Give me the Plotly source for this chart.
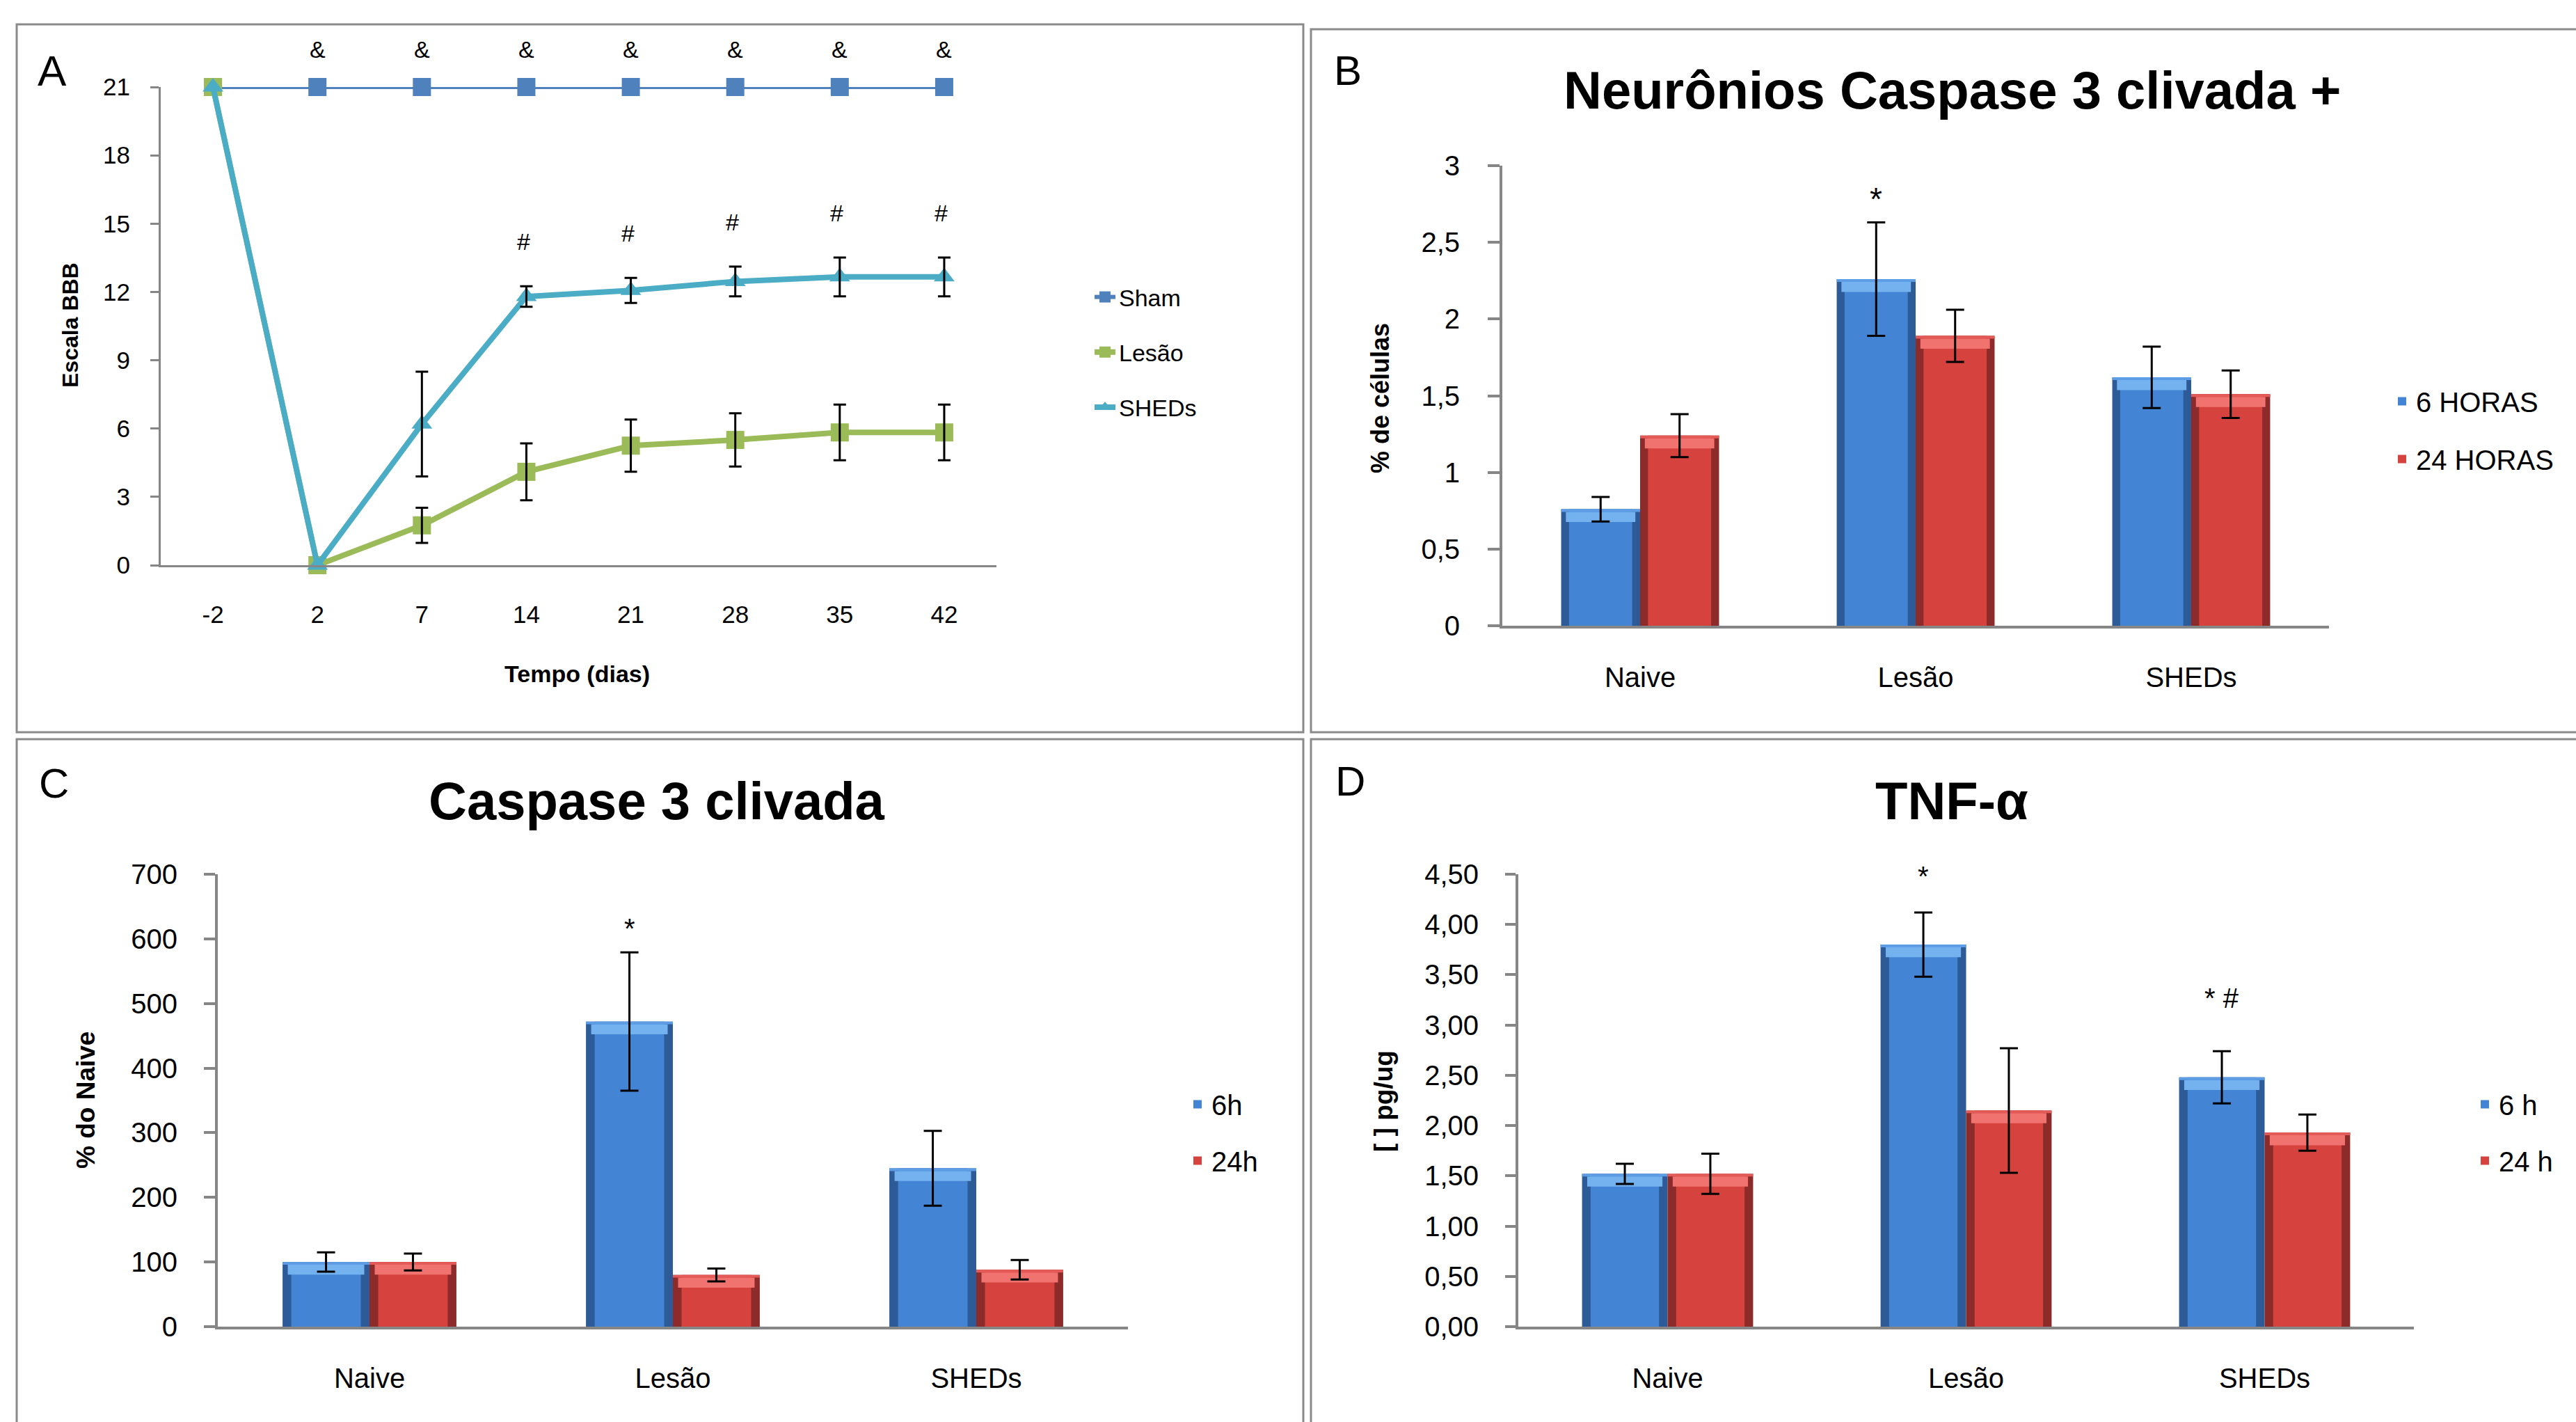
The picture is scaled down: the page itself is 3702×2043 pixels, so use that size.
import plotly.graph_objects as go

# ---------------- data ----------------
DAYS = ['-2', '2', '7', '14', '21', '28', '35', '42']
SHAM = [21, 21, 21, 21, 21, 21, 21, 21]
LESAO = [21, 0, 1.75, 4.1, 5.25, 5.5, 5.83, 5.83]
LESAO_ERR = [0, 0, 0.77, 1.25, 1.15, 1.17, 1.22, 1.22]
SHEDS = [21, 0, 6.2, 11.8, 12.07, 12.46, 12.66, 12.66]
SHEDS_ERR = [0, 0, 2.3, 0.45, 0.55, 0.65, 0.85, 0.85]
A_YTICKS = [0, 3, 6, 9, 12, 15, 18, 21]
AMP_DAYS = ['2', '7', '14', '21', '28', '35', '42']
HASH_DAYS = ['14', '21', '28', '35', '42']

GROUPS = ['Naive', 'Lesão', 'SHEDs']

B_6H = [0.76, 2.26, 1.62]
B_6H_ERR = [0.08, 0.37, 0.20]
B_24H = [1.24, 1.89, 1.51]
B_24H_ERR = [0.14, 0.17, 0.155]
B_TICKS = [0, 0.5, 1, 1.5, 2, 2.5, 3]
B_TICKTEXT = ['0', '0,5', '1', '1,5', '2', '2,5', '3']

C_6H = [100, 472, 245]
C_6H_ERR = [15, 107, 58]
C_24H = [100, 80, 88]
C_24H_ERR = [13, 10, 15]
C_TICKS = [0, 100, 200, 300, 400, 500, 600, 700]
C_TICKTEXT = ['0', '100', '200', '300', '400', '500', '600', '700']

D_6H = [1.52, 3.80, 2.48]
D_6H_ERR = [0.10, 0.32, 0.26]
D_24H = [1.52, 2.15, 1.93]
D_24H_ERR = [0.20, 0.62, 0.18]
D_TICKS = [0, 0.5, 1, 1.5, 2, 2.5, 3, 3.5, 4, 4.5]
D_TICKTEXT = ['0,00', '0,50', '1,00', '1,50', '2,00', '2,50', '3,00', '3,50', '4,00', '4,50']

# ---------------- style ----------------
W, H = 3702, 2043
FONT = "Liberation Sans, Arial, Helvetica, sans-serif"
AXIS_GRAY = '#868686'
BORDER_GRAY = '#8a8a8a'
BLUE = dict(edge='#2c5b98', body='#4384d4', band='#74b2ef', rim='#5d9de6')
RED = dict(edge='#8c2b29', body='#d6433f', band='#f07370', rim='#e35a56')
BAR_W = 0.2865


def px(x):
    return x / W


def py(y):
    return 1 - y / H


fig = go.Figure()

# ---------------- panel A ----------------
series_a = [
    ('Sham', SHAM, None, '#4f81bd', 'square', 26, 6),
    ('Lesão', LESAO, LESAO_ERR, '#9bbb59', 'square', 26, 8),
    ('SHEDs', SHEDS, SHEDS_ERR, '#4bacc6', 'triangle-up', 26, 8),
]
for name, vals, errs, col, sym, msize, lw in series_a:
    fig.add_trace(go.Scatter(
        x=DAYS, y=vals, name=name, mode='lines+markers',
        line=dict(color=col, width=lw),
        marker=dict(color=col, symbol=sym, size=msize),
        cliponaxis=False, xaxis='x', yaxis='y', legend='legend',
        legendgroup=name))
for name, vals, errs, col, sym, msize, lw in series_a:
    if errs is None:
        continue
    fig.add_trace(go.Scatter(
        x=DAYS[2:], y=vals[2:], mode='markers', showlegend=False,
        marker=dict(color=col, size=2, opacity=0),
        error_y=dict(type='data', array=errs[2:], color='black',
                     thickness=3, width=9),
        cliponaxis=False, xaxis='x', yaxis='y'))


# ---------------- bar panels ----------------
def add_bar_series(xa, ya, legend, name, vals, errs, colors, offset, R, group):
    common = dict(x=GROUPS, xaxis=xa, yaxis=ya)
    fig.add_trace(go.Bar(y=vals, width=BAR_W, offset=offset,
                         marker=dict(color=colors['edge'], line=dict(width=0)),
                         showlegend=False, **common))
    fig.add_trace(go.Bar(y=vals, width=BAR_W * 0.8, offset=offset + BAR_W * 0.1,
                         marker=dict(color=colors['body'], line=dict(width=0)),
                         name=name, legend=legend, legendgroup=group,
                         showlegend=True, **common))
    fig.add_trace(go.Bar(y=[R * 0.022] * len(vals),
                         base=[v - R * 0.028 for v in vals],
                         width=BAR_W * 0.88, offset=offset + BAR_W * 0.06,
                         marker=dict(color=colors['band'], line=dict(width=0)),
                         showlegend=False, **common))
    fig.add_trace(go.Bar(y=[R * 0.006] * len(vals),
                         base=[v - R * 0.006 for v in vals],
                         width=BAR_W, offset=offset,
                         marker=dict(color=colors['rim'], line=dict(width=0)),
                         showlegend=False, **common))
    fig.add_trace(go.Bar(y=vals, width=BAR_W, offset=offset,
                         marker=dict(color='rgba(0,0,0,0)', line=dict(width=0)),
                         error_y=dict(type='data', array=errs, color='black',
                                      thickness=3, width=13),
                         showlegend=False, **common))


add_bar_series('x2', 'y2', 'legend2', '6 HORAS', B_6H, B_6H_ERR, BLUE, -BAR_W, 3, 'b6')
add_bar_series('x2', 'y2', 'legend2', '24 HORAS', B_24H, B_24H_ERR, RED, 0, 3, 'b24')
add_bar_series('x3', 'y3', 'legend3', '6h', C_6H, C_6H_ERR, BLUE, -BAR_W, 700, 'c6')
add_bar_series('x3', 'y3', 'legend3', '24h', C_24H, C_24H_ERR, RED, 0, 700, 'c24')
add_bar_series('x4', 'y4', 'legend4', '6 h', D_6H, D_6H_ERR, BLUE, -BAR_W, 4.5, 'd6')
add_bar_series('x4', 'y4', 'legend4', '24 h', D_24H, D_24H_ERR, RED, 0, 4.5, 'd24')

# ---------------- axes ----------------
def xaxis_cfg(domain, anchor, rng, fsize, lw, standoff):
    return dict(domain=domain, anchor=anchor, type='category', range=rng,
                showline=True, linecolor=AXIS_GRAY, linewidth=lw, ticks='',
                showgrid=False, zeroline=False, fixedrange=True, automargin=False,
                tickfont=dict(family=FONT, size=fsize, color='black'),
                ticklabelstandoff=standoff)


def yaxis_cfg(domain, anchor, rng, tickvals, ticktext, fsize, lw, ticklen, standoff):
    return dict(domain=domain, anchor=anchor, range=rng, tickmode='array',
                tickvals=tickvals, ticktext=ticktext,
                showline=True, linecolor=AXIS_GRAY, linewidth=lw,
                ticks='outside', ticklen=ticklen, tickwidth=lw, tickcolor=AXIS_GRAY,
                showgrid=False, zeroline=False, fixedrange=True, automargin=False,
                tickfont=dict(family=FONT, size=fsize, color='black'),
                ticklabelstandoff=standoff)


layout = dict(
    template='none',
    width=W, height=H, margin=dict(l=0, r=0, t=0, b=0, pad=0, autoexpand=False),
    paper_bgcolor='white', plot_bgcolor='rgba(0,0,0,0)',
    barmode='overlay', font=dict(family=FONT, color='black'),
    xaxis=xaxis_cfg([px(231), px(1432)], 'y', [-0.5, 7.5], 35, 3, 38),
    yaxis=yaxis_cfg([py(812), py(125)], 'x', [0, 21], A_YTICKS,
                    [str(v) for v in A_YTICKS], 35, 3, 12, 22),
    xaxis2=xaxis_cfg([px(2159), px(3347)], 'y2', [-0.5, 2.5], 40, 4, 36),
    yaxis2=yaxis_cfg([py(899), py(238)], 'x2', [0, 3], B_TICKS, B_TICKTEXT, 40, 4, 17, 32),
    xaxis3=xaxis_cfg([px(313), px(1621)], 'y3', [-0.5, 2.5], 40, 4, 36),
    yaxis3=yaxis_cfg([py(1906), py(1256)], 'x3', [0, 700], C_TICKS, C_TICKTEXT, 40, 4, 16, 30),
    xaxis4=xaxis_cfg([px(2182), px(3469)], 'y4', [-0.5, 2.5], 40, 4, 36),
    yaxis4=yaxis_cfg([py(1906), py(1256)], 'x4', [0, 4.5], D_TICKS, D_TICKTEXT, 40, 4, 15, 30),
)


def legend_cfg(x, y, fsize, gap):
    return dict(x=x, y=y, xanchor='left', yanchor='top', bgcolor='rgba(0,0,0,0)',
                borderwidth=0, tracegroupgap=gap, traceorder='grouped',
                font=dict(family=FONT, size=fsize, color='black'))


layout['legend'] = legend_cfg(px(1568), py(398), 34, 32)
layout['legend2'] = legend_cfg(px(3432), py(544), 40, 28)
layout['legend3'] = legend_cfg(px(1701), py(1554), 40, 26)
layout['legend4'] = legend_cfg(px(3551), py(1554), 40, 26)
fig.update_layout(**layout)

# ---------------- annotations ----------------
ann = []


def text_ann(x, y, text, size, xanchor='center', **kw):
    d = dict(x=px(x), y=py(y), xref='paper', yref='paper', text=text, showarrow=False,
             xanchor=xanchor, yanchor='middle',
             font=dict(family=FONT, size=size, color='black'))
    d.update(kw)
    ann.append(d)


# panel letters
text_ann(52, 102, 'A', 62, xanchor='left')
text_ann(1915, 101, 'B', 60, xanchor='left')
text_ann(54, 1125, 'C', 60, xanchor='left')
text_ann(1917, 1122, 'D', 60, xanchor='left')
# titles
text_ann(2805, 130, '<b>Neurônios Caspase 3 clivada +</b>', 76)
text_ann(944, 1150, '<b>Caspase 3 clivada</b>', 76)
text_ann(2805, 1150, '<b>TNF-α</b>', 76)
# axis titles
text_ann(829, 968, '<b>Tempo (dias)</b>', 34)
text_ann(101, 467, '<b>Escala BBB</b>', 32, textangle=-90)
text_ann(1983, 572, '<b>% de células</b>', 36, textangle=-90)
text_ann(123, 1581, '<b>% do Naive</b>', 37, textangle=-90)
text_ann(1988, 1582, '<b>[ ] pg/ug</b>', 37, textangle=-90)

# significance marks, anchored to the data (category index on the x axis)
for d in AMP_DAYS:
    i = DAYS.index(d)
    ann.append(dict(x=i, y=SHAM[i], xref='x', yref='y', text='&amp;', showarrow=False,
                    yshift=54, xanchor='center', yanchor='middle',
                    font=dict(family=FONT, size=34, color='black')))
for d in HASH_DAYS:
    i = DAYS.index(d)
    ann.append(dict(x=i, y=SHEDS[i] + SHEDS_ERR[i], xref='x', yref='y', text='#',
                    showarrow=False, yshift=64, xshift=-4, xanchor='center', yanchor='middle',
                    font=dict(family=FONT, size=34, color='black')))

gi = GROUPS.index('Lesão')
ann.append(dict(x=gi - BAR_W / 2, y=B_6H[gi] + B_6H_ERR[gi], xref='x2', yref='y2',
                text='*', showarrow=False, yshift=34, xanchor='center', yanchor='middle',
                font=dict(family=FONT, size=46, color='black')))
ann.append(dict(x=gi - BAR_W / 2, y=C_6H[gi] + C_6H_ERR[gi], xref='x3', yref='y3',
                text='*', showarrow=False, yshift=34, xanchor='center', yanchor='middle',
                font=dict(family=FONT, size=40, color='black')))
ann.append(dict(x=gi - BAR_W / 2, y=D_6H[gi] + D_6H_ERR[gi], xref='x4', yref='y4',
                text='*', showarrow=False, yshift=52, xanchor='center', yanchor='middle',
                font=dict(family=FONT, size=40, color='black')))
si = GROUPS.index('SHEDs')
ann.append(dict(x=si - BAR_W / 2, y=D_6H[si] + D_6H_ERR[si], xref='x4', yref='y4',
                text='* #', showarrow=False, yshift=76, xanchor='center', yanchor='middle',
                font=dict(family=FONT, size=40, color='black')))
fig.update_layout(annotations=ann)

# ---------------- panel frames ----------------
frames = [(24, 35, 1873, 1052), (1884, 42, 3720, 1052),
          (24, 1062, 1873, 2060), (1884, 1062, 3720, 2060)]
fig.update_layout(shapes=[dict(type='rect', xref='paper', yref='paper',
                               x0=px(a), x1=px(c), y0=py(b), y1=py(d),
                               line=dict(color=BORDER_GRAY, width=3), layer='below')
                          for a, b, c, d in frames])

fig.write_html("out.html", config={'displayModeBar': False},
               post_script="document.body.style.margin='0';document.body.style.overflow='hidden';")
